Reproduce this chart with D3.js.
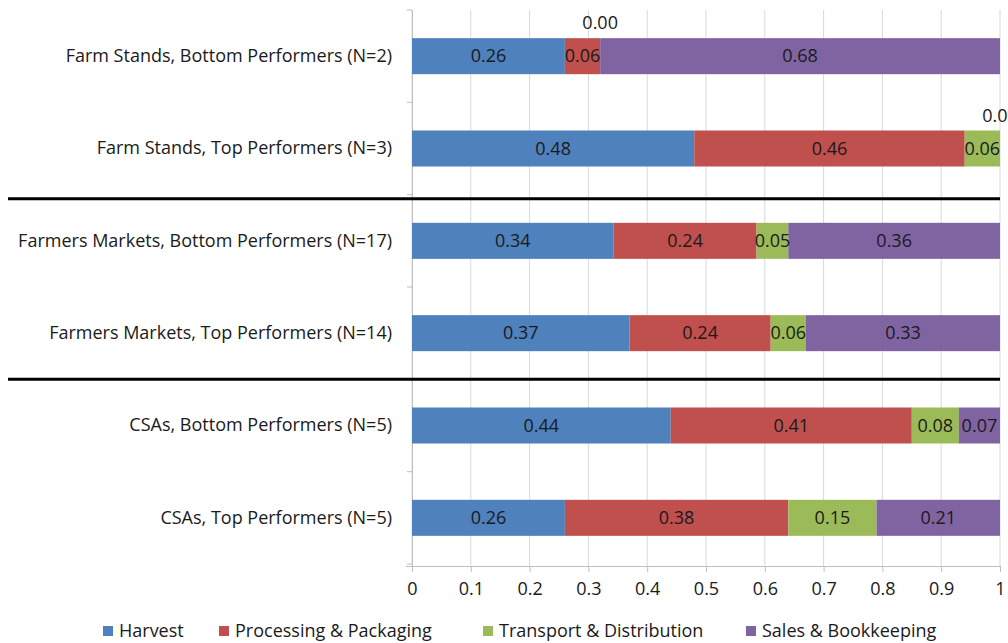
<!DOCTYPE html>
<html>
<head>
<meta charset="utf-8">
<script src="https://cdn.jsdelivr.net/npm/d3@7"></script>
<style>
  html, body { margin: 0; padding: 0; background: #fff; }
  svg { display: block; }
  text { font-family: "Open Sans", Lato, sans-serif; fill: #1a1a1a; }
</style>
</head>
<body>
<svg id="chart" width="1008" height="643"></svg>
<script>
// Share of labour time by task, for each market channel group
const categories = [
  "Farm Stands, Bottom Performers (N=2)",
  "Farm Stands, Top Performers (N=3)",
  "Farmers Markets, Bottom Performers (N=17)",
  "Farmers Markets, Top Performers (N=14)",
  "CSAs, Bottom Performers (N=5)",
  "CSAs, Top Performers (N=5)"
];
const seriesNames = ["Harvest", "Processing & Packaging", "Transport & Distribution", "Sales & Bookkeeping"];
const harvest    = [0.26, 0.48, 0.343, 0.37, 0.44, 0.26];
const processing = [0.06, 0.46, 0.243, 0.24, 0.41, 0.38];
const transport  = [0.00, 0.06, 0.054, 0.06, 0.08, 0.15];
const sales      = [0.68, 0.00, 0.36, 0.33, 0.07, 0.21];
const xTicks = [0, 0.1, 0.2, 0.3, 0.4, 0.5, 0.6, 0.7, 0.8, 0.9, 1];
// Channel groups are divided after these row indices
const dividersAfter = [1, 3];

const colors = ["#4F81BD", "#C0504D", "#9BBB59", "#8064A2"];
const fontSize = "18px";

const rows = categories.map((c, i) => ({
  category: c,
  values: [harvest[i], processing[i], transport[i], sales[i]]
}));

const svg = d3.select("#chart");
const plotLeft = 412, plotRight = 1000, plotTop = 10, plotBottom = 564;

const x = d3.scaleLinear().domain([0, 1]).range([plotLeft, plotRight]);
const y = d3.scaleBand().domain(categories).range([plotTop, plotBottom])
  .paddingInner(0.61).paddingOuter(0.305);

// vertical gridlines
svg.append("g").selectAll("line").data(xTicks).join("line")
  .attr("x1", d => x(d)).attr("x2", d => x(d))
  .attr("y1", plotTop).attr("y2", plotBottom + 2)
  .attr("stroke", "#d9d9d9").attr("stroke-width", 1);

// x axis
const xAxis = svg.append("g").attr("transform", `translate(0,${plotBottom + 2})`)
  .call(d3.axisBottom(x).tickValues(xTicks).tickFormat(d3.format("~g")).tickSize(6).tickPadding(10));
xAxis.select(".domain").attr("stroke", "#bfbfbf").attr("d", `M${plotLeft - 6},0.5H${plotRight}`);
xAxis.selectAll(".tick line").attr("stroke", "#bfbfbf");
xAxis.selectAll(".tick text").style("font-size", fontSize).attr("fill", "#1a1a1a");

// y axis
const yAxis = svg.append("g").attr("transform", `translate(${plotLeft},0)`)
  .call(d3.axisLeft(y).tickSize(0).tickPadding(20));
yAxis.select(".domain").attr("stroke", "#bfbfbf").attr("d", `M0.5,${plotTop}V${plotBottom + 2}`);
yAxis.selectAll(".tick text").style("font-size", fontSize).attr("fill", "#1a1a1a");
// band boundary tick marks
svg.append("g").selectAll("line").data(d3.range(categories.length + 1)).join("line")
  .attr("x1", plotLeft - 5).attr("x2", plotLeft)
  .attr("y1", i => plotTop + i * y.step()).attr("y2", i => plotTop + i * y.step())
  .attr("stroke", "#bfbfbf");

// stacked segments
const rowG = svg.append("g").selectAll("g").data(rows).join("g");
rowG.each(function (row) {
  let acc = 0;
  const segs = row.values.map((v, k) => {
    const s = { v, k, x0: acc, x1: acc + v };
    acc += v;
    return s;
  });
  const g = d3.select(this);
  const by = y(row.category), bh = y.bandwidth();
  g.selectAll("rect").data(segs).join("rect")
    .attr("x", s => x(s.x0)).attr("width", s => Math.max(0, x(s.x1) - x(s.x0)))
    .attr("y", by).attr("height", bh)
    .attr("fill", s => colors[s.k]);
  g.selectAll("text").data(segs).join("text")
    .attr("x", s => x((s.x0 + s.x1) / 2))
    .attr("y", s => s.v === 0 ? by - 15 : by + bh / 2)
    .attr("dy", "0.35em")
    .attr("text-anchor", "middle")
    .style("font-size", fontSize)
    .text(s => d3.format(".2f")(s.v));
});

// group dividers (hand-placed rules between channel groups)
svg.append("g").selectAll("line").data(dividersAfter).join("line")
  .attr("x1", 8).attr("x2", plotRight)
  .attr("y1", (d, i) => plotTop + (d + 1) * y.step() + (i === 0 ? 4 : 0))
  .attr("y2", (d, i) => plotTop + (d + 1) * y.step() + (i === 0 ? 4 : 0))
  .attr("stroke", "#000").attr("stroke-width", 3);

// legend
const legendX = [103, 219, 483, 746];
const legend = svg.append("g").selectAll("g").data(seriesNames).join("g")
  .attr("transform", (d, i) => `translate(${legendX[i]},631)`);
legend.append("rect").attr("x", 0).attr("y", -5).attr("width", 10).attr("height", 10)
  .attr("fill", (d, i) => colors[i]);
legend.append("text").attr("x", 16).attr("dy", "0.35em")
  .style("font-size", fontSize).text(d => d);
</script>
</body>
</html>
